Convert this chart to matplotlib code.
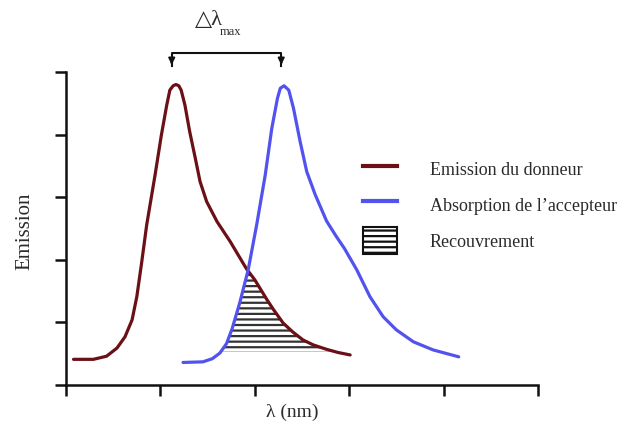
import numpy as np
import matplotlib.pyplot as plt
from matplotlib.lines import Line2D
from matplotlib.patches import Patch

plt.rcParams['font.family'] = ['Liberation Serif', 'DejaVu Sans']
plt.rcParams['hatch.linewidth'] = 1.6

# Emission du donneur
x_don = [0.08, 0.29, 0.43, 0.54, 0.625, 0.70, 0.75, 0.80, 0.855, 0.943, 1.01, 1.067,
         1.10, 1.135, 1.165, 1.195, 1.22, 1.26, 1.31, 1.37, 1.42, 1.49, 1.60, 1.74,
         1.91, 2.00, 2.13, 2.20, 2.30, 2.40, 2.51, 2.62, 2.76, 2.88, 3.01]
y_don = [0.41, 0.41, 0.46, 0.59, 0.77, 1.04, 1.41, 1.94, 2.56, 3.35, 3.99, 4.47,
         4.71, 4.78, 4.80, 4.78, 4.71, 4.47, 4.05, 3.62, 3.25, 2.93, 2.61, 2.29,
         1.86, 1.68, 1.36, 1.20, 0.99, 0.85, 0.72, 0.64, 0.57, 0.52, 0.48]

# Absorption de l'accepteur
x_acc = [1.24, 1.45, 1.55, 1.63, 1.70, 1.76, 1.84, 1.93, 2.02, 2.11, 2.18, 2.24,
         2.27, 2.31, 2.36, 2.41, 2.48, 2.55, 2.64, 2.76, 2.86, 2.95, 3.08, 3.22,
         3.36, 3.50, 3.68, 3.89, 4.16]
y_acc = [0.36, 0.37, 0.42, 0.51, 0.66, 0.90, 1.31, 1.84, 2.56, 3.35, 4.10, 4.58,
         4.74, 4.78, 4.71, 4.42, 3.89, 3.41, 3.04, 2.62, 2.38, 2.18, 1.84, 1.41,
         1.09, 0.88, 0.69, 0.56, 0.45]

# Recouvrement
x_rec = [1.62, 1.70, 1.76, 1.84, 1.93, 2.00, 2.13, 2.20, 2.30, 2.40, 2.51, 2.62, 2.76, 2.80]
y_rec = [0.53, 0.66, 0.90, 1.31, 1.84, 1.68, 1.36, 1.20, 0.99, 0.85, 0.72, 0.64, 0.57, 0.53]
y_rec_base = 0.53

c_don = '#6a1016'
c_acc = '#5252ee'
c_txt = '#2b2b2b'

fig = plt.figure(figsize=(6.33, 4.29), dpi=100)
ax = fig.add_axes([66 / 633, 1 - 385 / 429, (538 - 66) / 633, (385 - 72) / 429])

ax.fill_between(x_rec, y_rec_base, y_rec, facecolor='none', edgecolor='#333333',
                hatch='---', linewidth=0)
ax.plot(x_don, y_don, color=c_don, lw=2.3, solid_joinstyle='round', solid_capstyle='round')
ax.plot(x_acc, y_acc, color=c_acc, lw=2.3, solid_joinstyle='round', solid_capstyle='round')

ax.set_xlim(0, 5)
ax.set_ylim(0, 5)
ax.set_xticks(range(6))
ax.set_yticks(range(6))
ax.set_xticklabels([])
ax.set_yticklabels([])
ax.tick_params(direction='out', length=8, width=1.8, color='#111111')
for s in ['top', 'right']:
    ax.spines[s].set_visible(False)
for s in ['left', 'bottom']:
    ax.spines[s].set_linewidth(1.8)
    ax.spines[s].set_color('#111111')

ax.set_ylabel('Emission', fontsize=15, color=c_txt)
ax.yaxis.set_label_coords(-0.066, 0.49)
ax.set_xlabel('λ (nm)', fontsize=14, color=c_txt)
ax.xaxis.set_label_coords(0.48, -0.06)

# delta lambda max bracket
pk_don, pk_acc = 1.12, 2.28
ax.plot([pk_don, pk_don, pk_acc, pk_acc], [5.1, 5.3, 5.3, 5.1], color='#111111',
        lw=1.5, clip_on=False)
for px in (pk_don, pk_acc):
    ax.annotate('', xy=(px, 5.07), xytext=(px, 5.2),
                arrowprops=dict(arrowstyle='-|>', color='#111111', lw=1.5,
                                mutation_scale=9), annotation_clip=False)
ax.text(1.37, 5.83, '△λ', fontsize=16, color=c_txt, ha='left', va='center')
ax.text(1.63, 5.59, 'max', fontsize=9, color=c_txt, ha='left', va='baseline')

handles = [Line2D([], [], color=c_don, lw=3),
           Line2D([], [], color=c_acc, lw=3),
           Patch(facecolor='white', edgecolor='#111111', hatch='---', lw=1.5)]
labels = ['Emission du donneur', "Absorption de l’accepteur", 'Recouvrement']
leg = fig.legend(handles, labels, loc='upper left',
                 bbox_to_anchor=(363 / 633, 1 - 156 / 429), frameon=False,
                 fontsize=13, handlelength=1.9, handleheight=1.9,
                 handletextpad=1.8, labelspacing=0.5, borderpad=0,
                 borderaxespad=0)
for t in leg.get_texts():
    t.set_color(c_txt)

fig.savefig('out.png', dpi=100)
